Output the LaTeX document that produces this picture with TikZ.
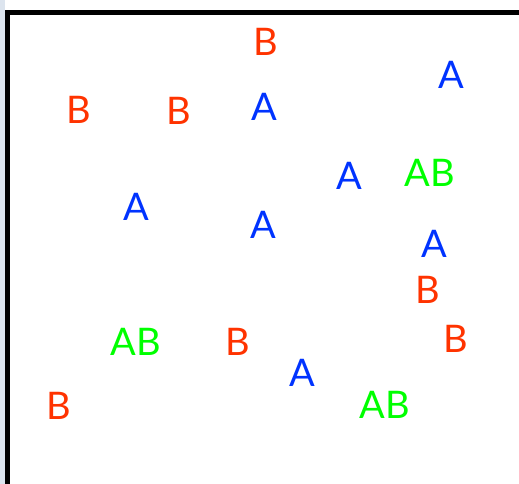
\documentclass[tikz,border=0pt]{standalone}
\usepackage{fontspec}
\setmainfont{Lato}
\definecolor{cred}{HTML}{FF3300}
\definecolor{cblue}{HTML}{0033FF}
\definecolor{cgreen}{HTML}{00FF00}
\definecolor{cstrip}{HTML}{DCE4EE}
\begin{document}
\begin{tikzpicture}[x=1pt,y=-1pt,
  lab/.style={font=\fontsize{38}{40}\selectfont, inner sep=0pt, anchor=center},
  la/.style={lab, text=cblue},
  lb/.style={lab, text=cred},
  lab2/.style={lab, text=cgreen}]
\useasboundingbox (0,0) rectangle (519,484);
\fill[cstrip] (0,0) rectangle (5,484);
\fill[white] (5,0) rectangle (519,10);
\draw[line width=5pt] (7.5,484) -- (7.5,12.5) -- (519,12.5);
\node[lb] (b1) at (266,42) {B};
\node[la] (a1) at (451,75) {A};
\node[lb] (b2) at (79,110) {B};
\node[lb] (b3) at (179,111) {B};
\node[la] (a2) at (264,107) {A};
\node[la] (a3) at (349,176) {A};
\node[lab2] (ab1) at (430,173) {AB};
\node[la] (a4) at (136,207) {A};
\node[la] (a5) at (263,225) {A};
\node[la] (a6) at (434,244) {A};
\node[lb] (b4) at (428,290) {B};
\node[lab2] (ab2) at (136,342) {AB};
\node[lb] (b5) at (238,342) {B};
\node[lb] (b6) at (456,339) {B};
\node[la] (a7) at (302,373) {A};
\node[lb] (b7) at (59,406) {B};
\node[lab2] (ab3) at (385,405) {AB};
\end{tikzpicture}
\end{document}
